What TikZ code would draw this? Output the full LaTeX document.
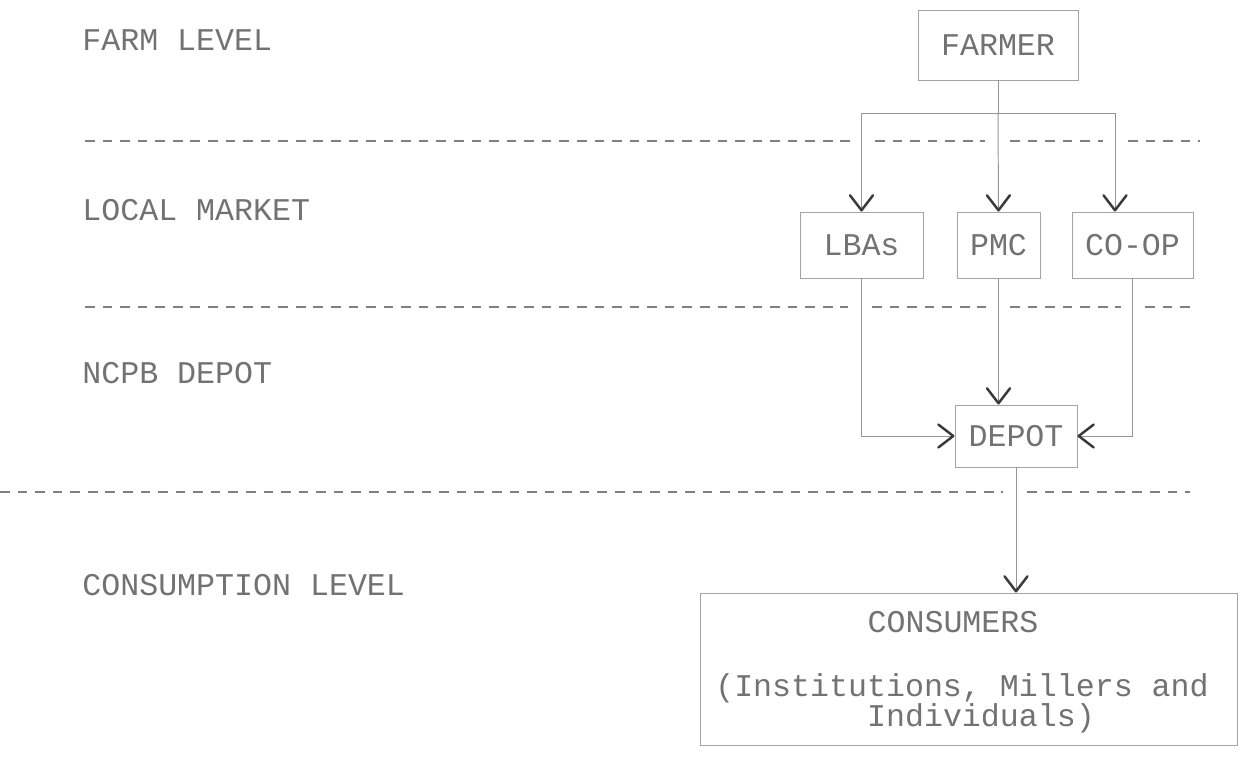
\documentclass[tikz,border=0pt]{standalone}
\usepackage{fontspec}
\setmonofont{Liberation Mono}
\usetikzlibrary{arrows.meta}
\definecolor{txt}{HTML}{727272}
\definecolor{boxc}{HTML}{A4A4A4}
\definecolor{linec}{HTML}{959595}
\definecolor{arrc}{HTML}{3A3A3A}
\definecolor{dashc}{HTML}{808080}
\begin{document}
\begin{tikzpicture}[x=0.02cm,y=-0.02cm,
  lbl/.style={font=\ttfamily\fontsize{18}{20}\selectfont, text=txt, anchor=west, inner sep=0pt},
  ctext/.style={font=\ttfamily\fontsize{18}{17}\selectfont, text=txt, inner sep=0pt},
  box/.style={draw=boxc, line width=0.55pt, font=\ttfamily\fontsize{18}{20}\selectfont, text=txt, inner sep=0pt},
  conn/.style={draw=linec, line width=0.55pt},
  arr/.style={conn, -{Straight Barb[length=3mm,width=4.6mm,line width=1.4pt,round,color=arrc]}},
  sep/.style={draw=dashc, line width=1pt, dash pattern=on 5.5pt off 4.5pt}
]
\useasboundingbox (0,0) rectangle (1251,758);

% level labels
\node[lbl] (l1) at (82,40) {FARM LEVEL};
\node[lbl] (l2) at (82,210) {LOCAL MARKET};
\node[lbl] (l3) at (82,373) {NCPB DEPOT};
\node[lbl] (l4) at (82,585) {CONSUMPTION LEVEL};

% separator lines
\draw[sep] (85,141) -- (850,141);
\draw[sep] (875,141) -- (985,141);
\draw[sep] (1010,141) -- (1103,141);
\draw[sep] (1128,141) -- (1200,141);
\draw[sep] (85,307) -- (848,307);
\draw[sep] (872,307) -- (986,307);
\draw[sep] (1010,307) -- (1121,307);
\draw[sep] (1145,307) -- (1195,307);
\draw[sep] (0,492) -- (1003,492);
\draw[sep] (1027,492) -- (1190,492);

% boxes
\node[box, minimum width=3.2cm, minimum height=1.4cm] (farmer) at (998,45) {FARMER};
\node[box, minimum width=2.46cm, minimum height=1.32cm] (lbas) at (861.5,245) {LBAs};
\node[box, minimum width=1.66cm, minimum height=1.32cm] (pmc) at (998.5,245) {PMC};
\node[box, minimum width=2.42cm, minimum height=1.32cm] (coop) at (1132.5,245) {CO-OP};
\node[box, minimum width=2.44cm, minimum height=1.24cm] (depot) at (1016,436) {DEPOT};
\node[box, minimum width=10.76cm, minimum height=3.04cm] (cons) at (969,669) {};
\node[ctext] (c1) at (953,622) {CONSUMERS};
\node[ctext, align=left] (c2) at (962,703) {(Institutions, Millers and\\\phantom{xxxxxxxx}Individuals)};

% connectors
\coordinate (j) at (998,113);
\coordinate (jl) at (861.5,113);
\coordinate (jr) at (1115,113);
\draw[conn] (farmer.south) -- (j);
\draw[conn] (jl) -- (jr);
\draw[arr] (jl) -- (lbas.north);
\draw[arr] (j) -- (pmc.north);
\draw[arr] (jr) -- (jr |- coop.north);
\draw[arr] (lbas.south) |- (depot.west);
\draw[arr] (pmc.south) -- (pmc.south |- depot.north);
\draw[arr] (coop.south) |- (depot.east);
\draw[arr] (depot.south) -- (depot.south |- cons.north);
\end{tikzpicture}
\end{document}
